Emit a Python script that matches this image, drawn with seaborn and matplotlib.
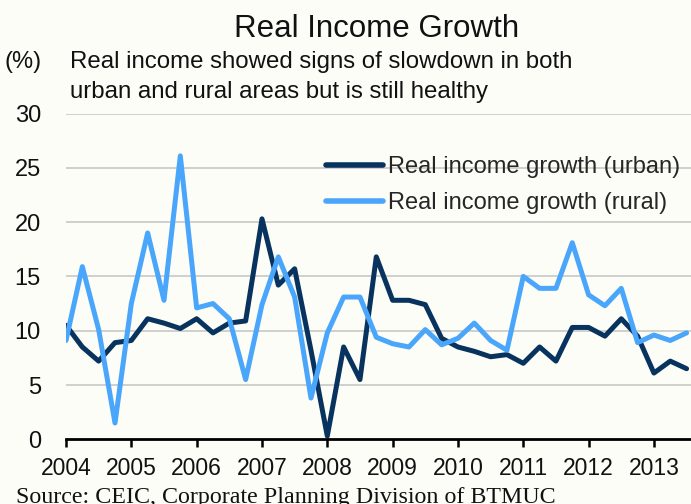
import matplotlib
matplotlib.use("Agg")
import matplotlib.pyplot as plt
import seaborn as sns
import pandas as pd
import numpy as np

# ---- data (quarterly, 2004Q1 - 2013Q3) ----
years = ["2004", "2005", "2006", "2007", "2008", "2009", "2010", "2011", "2012", "2013"]
urban = [10.5, 8.5, 7.2, 8.9, 9.1, 11.1, 10.7, 10.2, 11.1, 9.8, 10.7, 10.9,
         20.3, 14.2, 15.7, 8.2, 0.3, 8.5, 5.5, 16.8, 12.8, 12.8, 12.4, 9.3,
         8.5, 8.1, 7.6, 7.8, 7.0, 8.5, 7.2, 10.3, 10.3, 9.5, 11.1, 9.5,
         6.1, 7.2, 6.5]
rural = [9.1, 15.9, 10.1, 1.5, 12.5, 19.0, 12.8, 26.1, 12.1, 12.5, 11.1, 5.5,
         12.4, 16.8, 13.1, 3.8, 9.8, 13.1, 13.1, 9.4, 8.8, 8.5, 10.1, 8.7,
         9.3, 10.7, 9.1, 8.2, 15.0, 13.9, 13.9, 18.1, 13.3, 12.3, 13.9, 8.9,
         9.6, 9.1, 9.8]
series_names = ["Real income growth (urban)", "Real income growth (rural)"]
colors = ["#08335f", "#4aa6fb"]

n = len(urban)
df = pd.DataFrame({
    "q": list(range(n)) * 2,
    "value": urban + rural,
    "series": [series_names[0]] * n + [series_names[1]] * n,
})

bg = "#fdfdf7"
sns.set_theme(style="white")
plt.rcParams["font.family"] = ["Liberation Sans", "DejaVu Sans"]

W, H = 691, 504
fig = plt.figure(figsize=(W / 100, H / 100), dpi=100, facecolor=bg)
left, right, top, bottom = 66, 691, 113.5, 439.3
ax = fig.add_axes([left / W, (H - bottom) / H, (right - left) / W, (bottom - top) / H])
ax.set_facecolor(bg)

sns.lineplot(data=df, x="q", y="value", hue="series", palette=colors,
             linewidth=3.6, ax=ax, legend=True)

ax.set_xlim(0, 38.27)
ax.set_ylim(0, 30)
ax.set_yticks(range(0, 31, 5))
ax.set_yticklabels([str(v) for v in range(0, 31, 5)], fontsize=17, color="#111111")
ax.set_xticks([4 * i for i in range(len(years))])
ax.set_xticklabels(years, fontsize=16.5, color="#111111")
ax.set_xlabel("")
ax.set_ylabel("")

for y in range(5, 31, 5):
    ax.axhline(y, color="#c8c8c8", linewidth=1.2, zorder=0)

for s in ["left", "right", "top"]:
    ax.spines[s].set_visible(False)
ax.spines["bottom"].set_color("black")
ax.spines["bottom"].set_linewidth(2)
ax.tick_params(axis="x", direction="out", length=6, width=1.8, color="black", pad=7, bottom=True)
ax.tick_params(axis="y", length=0, pad=18)

leg = ax.legend(loc="upper left",
                bbox_to_anchor=((317 - left) / (right - left), 1.0 - (147 - top) / (bottom - top)),
                frameon=False, fontsize=17, handlelength=2.4, handletextpad=0.2,
                labelspacing=0.58, borderaxespad=0)
for line in leg.get_lines():
    line.set_linewidth(4)

fig.text(377 / W, 1 - 37 / H, "Real Income Growth", fontsize=22.5, ha="center",
         va="baseline", color="#111111")
fig.text(5 / W, 1 - 68 / H, "(%)", fontsize=17, ha="left", va="baseline", color="#111111")
fig.text(70 / W, 1 - 68 / H, "Real income showed signs of slowdown in both", fontsize=17.3,
         ha="left", va="baseline", color="#111111")
fig.text(70 / W, 1 - 98 / H, "urban and rural areas but is still healthy", fontsize=17.3,
         ha="left", va="baseline", color="#111111")
fig.text(16 / W, 1 - 503 / H, "Source: CEIC, Corporate Planning Division of BTMUC",
         fontsize=17.3, ha="left", va="baseline", color="#111111",
         family=["Liberation Serif", "DejaVu Serif"])

fig.savefig("out.png", dpi=100, facecolor=bg)
